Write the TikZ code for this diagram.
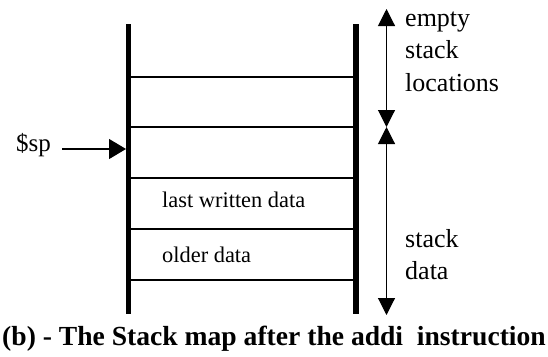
\documentclass[tikz,border=0pt]{standalone}
\usepackage{fontspec}
\setmainfont{Liberation Serif}
\usetikzlibrary{arrows.meta}
\begin{document}
\begin{tikzpicture}[x=1bp,y=-1bp,
  wall/.style={line width=5.5bp},
  rowline/.style={line width=1.4bp},
  arr/.style={line width=1.1bp},
  celltext/.style={font=\fontsize{22.4bp}{26bp}\selectfont, inner sep=0pt, anchor=base west},
  sidetext/.style={font=\fontsize{26bp}{32.5bp}\selectfont, inner sep=0pt, anchor=base west},
  captext/.style={font=\fontsize{27.6bp}{32bp}\selectfont\bfseries, inner sep=0pt, anchor=base},
  sidetip/.tip={Triangle[length=17bp,width=17bp]},
  sptip/.tip={Triangle[length=17bp,width=20bp]}]
\useasboundingbox (0,0) rectangle (548,356);
% walls
\coordinate (lwtop) at (128.5,24);
\coordinate (lwbot) at (128.5,314);
\coordinate (rwtop) at (356,24);
\coordinate (rwbot) at (356,314);
\draw[wall] (lwtop) -- (lwbot);
\draw[wall] (rwtop) -- (rwbot);
% row lines
\foreach \i/\y in {1/77,2/127,3/178,4/229,5/280}{
  \coordinate (l\i) at (128.5,\y);
  \coordinate (r\i) at (356,\y);
  \draw[rowline] (l\i) -- (r\i);
}
% cell texts
\node[celltext] (last) at (162,207) {last written data};
\node[celltext] (older) at (162,262) {older data};
% $sp pointer
\node[celltext, font=\fontsize{25bp}{28bp}\selectfont] (sp) at (16,151) {\$sp};
\coordinate (spstart) at (62,149);
\coordinate (spend) at (126,149);
\draw[arr, -{sptip}] (spstart) -- (spend);
% right side arrows
\coordinate (atop) at (386.5,9);
\coordinate (amid) at (386.5,127);
\coordinate (abot) at (386.5,315);
\draw[arr, {sidetip}-{sidetip}] (atop) -- (amid);
\draw[arr, {sidetip}-{sidetip}] (amid) -- (abot);
% side labels
\node[sidetext] (empty) at (405,26) {\begin{tabular}[t]{@{}l@{}}empty\\stack\\locations\end{tabular}};
\node[sidetext] (data) at (405,247) {\begin{tabular}[t]{@{}l@{}}stack\\data\end{tabular}};
% caption
\node[captext] (cap) at (274,345) {(b) - The Stack map after the addi\ \ instruction};
\end{tikzpicture}
\end{document}
